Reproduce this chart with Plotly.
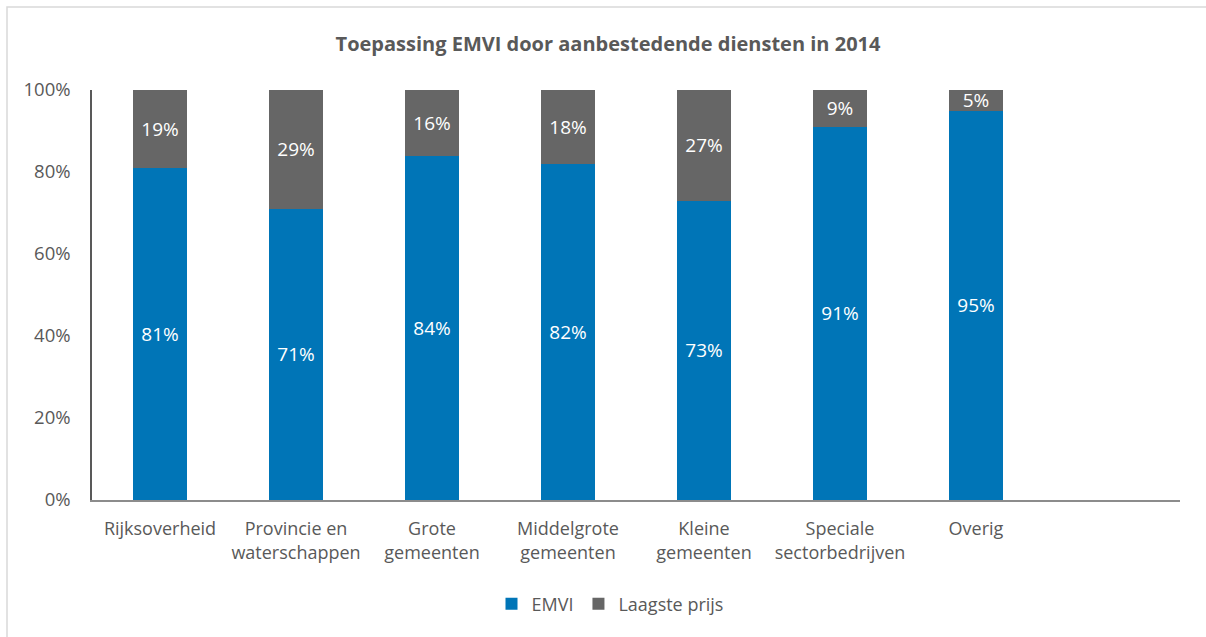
import plotly.graph_objects as go

categories = [
    "Rijksoverheid",
    "Provincie en<br>waterschappen",
    "Grote<br>gemeenten",
    "Middelgrote<br>gemeenten",
    "Kleine<br>gemeenten",
    "Speciale<br>sectorbedrijven",
    "Overig",
]
emvi = [81, 71, 84, 82, 73, 91, 95]
laagste_prijs = [19, 29, 16, 18, 27, 9, 5]
y_ticks = [0, 20, 40, 60, 80, 100]
y_tick_labels = ["0%", "20%", "40%", "60%", "80%", "100%"]

BLUE = "#0075B7"
GREY = "#666666"
TEXT = "#595959"
FONT = "Open Sans"

W, H = 1206, 637
L, R, T, B = 92, 26, 90, 137
pw, ph = W - L - R, H - T - B

label_font = dict(color="white", size=19, family=FONT)

fig = go.Figure()
fig.add_trace(go.Bar(
    name="EMVI", x=categories, y=emvi,
    marker=dict(color=BLUE, line=dict(width=0)),
    text=[f"{v}%" for v in emvi], textposition="inside",
    insidetextanchor="middle", textangle=0, constraintext="none",
    textfont=label_font, insidetextfont=label_font,
))
fig.add_trace(go.Bar(
    name="Laagste prijs", x=categories, y=laagste_prijs,
    marker=dict(color=GREY, line=dict(width=0)),
    text=[f"{v}%" for v in laagste_prijs], textposition="inside",
    insidetextanchor="middle", textangle=0, constraintext="none",
    textfont=label_font, insidetextfont=label_font,
))

# outer chart border
fig.add_shape(
    type="rect", xref="paper", yref="paper", layer="below",
    x0=(7 - L) / pw, x1=(W + 5 - L) / pw,
    y0=(H - B - (H + 5)) / ph, y1=(H - B - 7) / ph,
    line=dict(color="#D9D9D9", width=1.5), fillcolor="rgba(0,0,0,0)",
)

fig.update_layout(
    width=W, height=H,
    margin=dict(l=L, r=R, t=T, b=B),
    paper_bgcolor="white", plot_bgcolor="white",
    barmode="stack", bargap=0.6,
    uniformtext=dict(minsize=19, mode="show"),
    font=dict(family=FONT, color=TEXT, size=18),
    title=dict(
        text="<b>Toepassing EMVI door aanbestedende diensten in 2014</b>",
        x=608 / W, xanchor="center", xref="container",
        y=1 - 44 / H, yanchor="middle", yref="container",
        font=dict(size=20, color=TEXT, family=FONT),
    ),
    xaxis=dict(
        type="category", range=[-0.5, 7.5],
        showline=True, linecolor="#8C8C8C", linewidth=1.5,
        ticks="", showgrid=False, ticklabelstandoff=12,
        tickfont=dict(size=18, color=TEXT),
    ),
    yaxis=dict(
        range=[0, 100], tickvals=y_ticks, ticktext=y_tick_labels,
        showline=True, linecolor="#595959", linewidth=1.5,
        ticks="", showgrid=False, zeroline=False, ticklabelstandoff=16,
        tickfont=dict(size=18.5, color=TEXT),
    ),
    legend=dict(
        orientation="h", traceorder="normal",
        x=610 / W, xref="container", xanchor="center",
        y=1 - 604 / H, yref="container", yanchor="middle",
        font=dict(size=18, color=TEXT), itemwidth=30,
    ),
)

fig.write_html("out.html")
